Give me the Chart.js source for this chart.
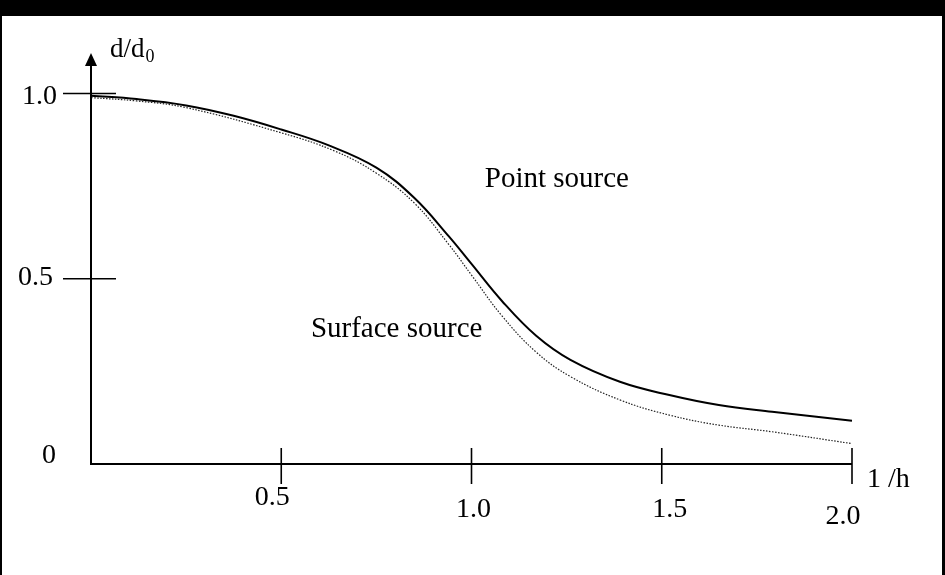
<!DOCTYPE html>
<html>
<head>
<meta charset="utf-8">
<script src="https://cdn.jsdelivr.net/npm/chart.js@4/dist/chart.umd.min.js"></script>
<style>
  html, body { margin: 0; padding: 0; background: #fff; }
  canvas { display: block; }
</style>
</head>
<body>
<canvas id="chart" width="945" height="575"></canvas>
<script>
// values (x = 1/h, y = d/d0)
const pointX = [0, 0.12, 0.25, 0.375, 0.5, 0.625, 0.75, 0.85, 0.94, 1.0, 1.08, 1.17, 1.26, 1.39, 1.52, 1.65, 1.79, 2.0];
const pointY = [0.994, 0.985, 0.968, 0.940, 0.903, 0.860, 0.80, 0.718, 0.615, 0.540, 0.44, 0.346, 0.281, 0.222, 0.186, 0.159, 0.141, 0.117];

const surfaceX = [0, 0.12, 0.25, 0.5, 0.64, 0.75, 0.85, 0.94, 1.0, 1.08, 1.17, 1.26, 1.39, 1.52, 1.65, 1.79, 2.0];
const surfaceY = [0.989, 0.980, 0.962, 0.894, 0.845, 0.785, 0.704, 0.593, 0.510, 0.400, 0.302, 0.236, 0.173, 0.132, 0.105, 0.087, 0.055];

const xTicks = [0.5, 1.0, 1.5, 2.0];
const xTickLabels = ['0.5', '1.0', '1.5', '2.0'];
const yTicks = [0, 0.5, 1.0];
const yTickLabels = ['0', '0.5', '1.0'];

const FONT = '"Liberation Serif", "Times New Roman", serif';

function toPoints(xs, ys) {
    return xs.map((x, i) => ({ x: x, y: ys[i] }));
}

// axes, ticks, labels and frame drawn by hand like the original figure
const figurePlugin = {
    id: 'figure',
    beforeDraw(chart) {
        const ctx = chart.ctx;
        ctx.save();
        ctx.fillStyle = '#fff';
        ctx.fillRect(0, 0, chart.width, chart.height);
        ctx.fillStyle = '#000';
        ctx.fillRect(0, 0, chart.width, 16);
        ctx.fillRect(0, 0, 2, chart.height);
        ctx.fillRect(chart.width - 3, 0, 3, chart.height);
        ctx.restore();
    },
    afterDraw(chart) {
        const ctx = chart.ctx;
        const xs = chart.scales.x;
        const ys = chart.scales.y;
        const x0 = xs.getPixelForValue(0);
        const y0 = ys.getPixelForValue(0);

        ctx.save();
        ctx.strokeStyle = '#000';
        ctx.fillStyle = '#000';
        ctx.lineWidth = 2;

        // y axis with arrow
        ctx.beginPath();
        ctx.moveTo(x0, y0);
        ctx.lineTo(x0, 62);
        ctx.stroke();
        ctx.beginPath();
        ctx.moveTo(x0, 53);
        ctx.lineTo(x0 - 6, 66);
        ctx.lineTo(x0 + 6, 66);
        ctx.closePath();
        ctx.fill();

        // x axis
        ctx.beginPath();
        ctx.moveTo(x0 - 1, y0);
        ctx.lineTo(xs.getPixelForValue(2.0), y0);
        ctx.stroke();

        ctx.lineWidth = 1.6;
        // y tick marks and labels
        const yNudge = [-8, -1, 3.5];
        ctx.font = '28px ' + FONT;
        ctx.textAlign = 'right';
        ctx.textBaseline = 'middle';
        yTicks.forEach((v, i) => {
            const py = ys.getPixelForValue(v);
            if (v !== 0) {
                ctx.beginPath();
                ctx.moveTo(x0 - 28, py);
                ctx.lineTo(x0 + 25, py);
                ctx.stroke();
            }
            ctx.fillText(yTickLabels[i], v === 0 ? 56 : (v === 0.5 ? 53 : 57), py + yNudge[i]);
        });

        // x tick marks and labels
        const xNudge = [[-9, 34], [2, 46], [8, 46], [-9, 53]];
        ctx.textAlign = 'center';
        xTicks.forEach((v, i) => {
            const px = xs.getPixelForValue(v);
            ctx.beginPath();
            ctx.moveTo(px, y0 - 16);
            ctx.lineTo(px, y0 + 20);
            ctx.stroke();
            ctx.fillText(xTickLabels[i], px + xNudge[i][0], y0 + xNudge[i][1]);
        });

        // axis titles
        ctx.textAlign = 'left';
        ctx.textBaseline = 'alphabetic';
        ctx.font = '28px ' + FONT;
        ctx.fillText('1 /h', xs.getPixelForValue(2.0) + 15, y0 + 23);
        ctx.font = '27px ' + FONT;
        ctx.fillText('d/d', 110, 57);
        const w = ctx.measureText('d/d').width;
        ctx.font = '18px ' + FONT;
        ctx.fillText('0', 110 + w + 1, 62);

        // curve labels
        ctx.font = '29px ' + FONT;
        ctx.fillText('Point source', xs.getPixelForValue(1.035), ys.getPixelForValue(0.748));
        ctx.fillText('Surface source', xs.getPixelForValue(0.578), ys.getPixelForValue(0.343));
        ctx.restore();
    }
};

const config = {
    type: 'line',
    data: {
        datasets: [
            {
                label: 'Point source',
                data: toPoints(pointX, pointY),
                borderColor: '#000',
                borderWidth: 2,
                pointRadius: 0,
                tension: 0.4,
                fill: false,
                clip: false
            },
            {
                label: 'Surface source',
                data: toPoints(surfaceX, surfaceY),
                borderColor: '#222',
                borderWidth: 1.2,
                borderDash: [1.5, 1.5],
                pointRadius: 0,
                tension: 0.4,
                fill: false,
                clip: false
            }
        ]
    },
    options: {
        responsive: false,
        animation: false,
        devicePixelRatio: 1,
        layout: {
            padding: { left: 91, right: 93, top: 56.5, bottom: 111 }
        },
        plugins: {
            legend: { display: false },
            tooltip: { enabled: false }
        },
        scales: {
            x: { type: 'linear', min: 0, max: 2.0, display: false },
            y: { type: 'linear', min: 0, max: 1.1, display: false }
        }
    },
    plugins: [figurePlugin]
};

new Chart(document.getElementById('chart'), config);
</script>
</body>
</html>
